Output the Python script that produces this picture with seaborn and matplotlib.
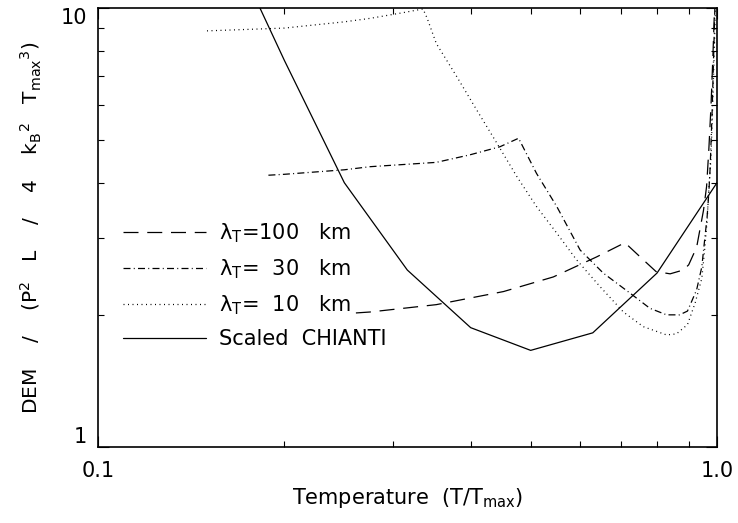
import numpy as np
import pandas as pd
import matplotlib
matplotlib.use('Agg')
import matplotlib.pyplot as plt
import matplotlib.ticker as mticker
import seaborn as sns

# scaled CHIANTI DEM
chianti_t = [0.158, 0.2, 0.25, 0.316, 0.4, 0.5, 0.63, 0.8, 1.0]
chianti_dem = [15.5, 7.6, 4.0, 2.53, 1.87, 1.66, 1.82, 2.49, 4.0]

# lambda_T = 100 km
t100 = [0.261, 0.275, 0.352, 0.452, 0.544, 0.639, 0.710, 0.76, 0.797, 0.84,
        0.882, 0.90, 0.927, 0.951, 0.962, 0.97, 0.978, 0.985, 0.992]
d100 = [2.02, 2.03, 2.11, 2.26, 2.44, 2.71, 2.92, 2.67, 2.51, 2.48,
        2.53, 2.6, 2.85, 3.46, 3.92, 4.75, 6.0, 7.8, 10.5]

# lambda_T = 30 km
t30 = [0.1885, 0.2, 0.25, 0.275, 0.352, 0.399, 0.446, 0.478, 0.511, 0.551,
       0.601, 0.655, 0.724, 0.779, 0.829, 0.87, 0.896, 0.927, 0.945, 0.955,
       0.964, 0.97, 0.975, 0.982, 0.988, 0.993]
d30 = [4.16, 4.18, 4.28, 4.35, 4.45, 4.63, 4.83, 5.05, 4.20, 3.53,
       2.81, 2.49, 2.24, 2.07, 2.0, 2.0, 2.04, 2.28, 2.57, 2.96,
       3.35, 3.79, 4.35, 5.8, 8.0, 10.5]

# lambda_T = 10 km
t10 = [0.150, 0.20, 0.25, 0.275, 0.31, 0.335, 0.34, 0.352, 0.38, 0.409,
       0.441, 0.475, 0.511, 0.551, 0.593, 0.647, 0.706, 0.76, 0.829, 0.86,
       0.896, 0.922, 0.945, 0.955, 0.964, 0.97, 0.978, 0.984, 0.99, 0.995]
d10 = [8.87, 9.0, 9.3, 9.47, 9.75, 9.95, 9.5, 8.3, 6.97, 5.86,
       4.92, 4.13, 3.53, 3.07, 2.67, 2.32, 2.03, 1.88, 1.80, 1.81,
       1.90, 2.13, 2.42, 2.81, 3.29, 3.85, 4.58, 6.0, 8.0, 10.5]

labels = ['λ$_\\mathrm{T}$=100   km', 'λ$_\\mathrm{T}$=  30   km',
          'λ$_\\mathrm{T}$=  10   km', 'Scaled  CHIANTI']

frames = []
for lab, t, d in zip(labels, [t100, t30, t10, chianti_t], [d100, d30, d10, chianti_dem]):
    frames.append(pd.DataFrame({'T': t, 'DEM': d, 'series': lab}))
df = pd.concat(frames, ignore_index=True)

sns.set_style('ticks')
plt.rcParams['font.family'] = ['DejaVu Sans']
plt.rcParams['mathtext.fontset'] = 'dejavusans'
for k in ['text.color', 'axes.labelcolor', 'xtick.color', 'ytick.color', 'axes.edgecolor']:
    plt.rcParams[k] = 'black'

fig = plt.figure(figsize=(7.38, 5.23), dpi=100)
ax = fig.add_axes([98 / 738, 1 - 447 / 523, 619 / 738, 439 / 523])

dash_map = {labels[0]: (12, 7), labels[1]: (5.6, 2.6, 0.8, 2.6),
            labels[2]: (0.8, 2.8), labels[3]: ''}
sns.lineplot(data=df, x='T', y='DEM', style='series', style_order=labels,
             dashes=dash_map, color='black', lw=0.9, estimator=None,
             sort=False, legend=False, ax=ax)

ax.set_xscale('log')
ax.set_yscale('log')
ax.set_xlim(0.1, 1.0)
ax.set_ylim(1, 10)

ax.set_xticks([0.1, 1.0])
ax.set_xticklabels(['0.1', '1.0'])
ax.set_yticks([1, 10])
ax.set_yticklabels(['1', '10'])
ax.xaxis.set_minor_locator(mticker.FixedLocator([0.2, 0.3, 0.4, 0.5, 0.6, 0.7, 0.8, 0.9]))
ax.yaxis.set_minor_locator(mticker.FixedLocator([2, 3, 4, 5, 6, 7, 8, 9]))
ax.xaxis.set_minor_formatter(mticker.NullFormatter())
ax.yaxis.set_minor_formatter(mticker.NullFormatter())
ax.tick_params(which='both', direction='in', top=True, right=True, width=0.8,
               labelsize=15)
ax.tick_params(which='major', length=8)
ax.tick_params(which='minor', length=4)
ax.tick_params(axis='x', pad=10)
ax.tick_params(axis='y', pad=8)
ylabs = ax.get_yticklabels()
ylabs[0].set_va('bottom')
ylabs[1].set_va('top')

for s in ax.spines.values():
    s.set_linewidth(1.2)

ax.set_xlabel('Temperature  (T/T$_\\mathrm{max}$)', fontsize=15, labelpad=4)
ax.set_ylabel('DEM    /    (P$^2$   L    /    4    k$_\\mathrm{B}$$^2$   T$_\\mathrm{max}$$^3$)',
              fontsize=14.5, labelpad=12)

ax.legend(handles=ax.get_lines(), labels=labels, loc='upper left',
          bbox_to_anchor=(0.04, 0.515), frameon=False, fontsize=15,
          handlelength=4.0, handletextpad=0.6, labelspacing=0.6,
          borderpad=0, borderaxespad=0)

fig.savefig('out.png', dpi=100)
